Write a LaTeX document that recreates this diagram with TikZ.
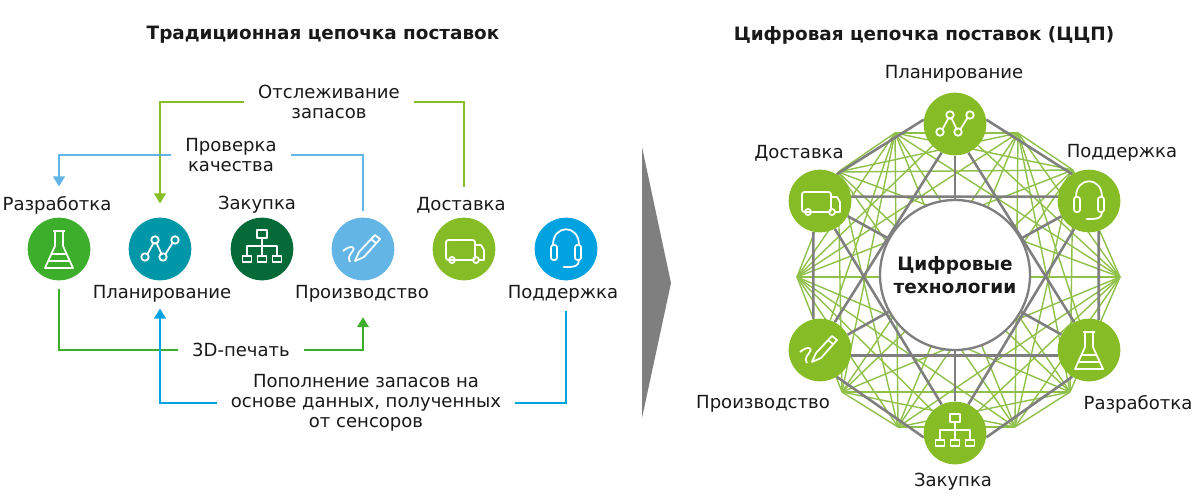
\documentclass[tikz,border=0pt]{standalone}
\usepackage{fontspec}
\setmainfont{DejaVu Sans}
\usetikzlibrary{arrows.meta,backgrounds}
\definecolor{dgreen}{HTML}{86BC25}
\definecolor{lgreen}{HTML}{3DAE2B}
\definecolor{tealb}{HTML}{0097A9}
\definecolor{darkg}{HTML}{046A38}
\definecolor{skyb}{HTML}{62B5E5}
\definecolor{cyanb}{HTML}{00A3E0}
\definecolor{meshgreen}{HTML}{8FC04A}
\definecolor{linegray}{HTML}{7F7F7F}
\tikzset{
    hub/.style={circle,minimum size=1.88cm,inner sep=0pt,fill=#1},
    txt/.style={text=black!90,font=\fontsize{15.4}{17}\selectfont,align=center,inner sep=0pt},
    lab/.style={txt,yshift=-1.7pt},
    flow/.style={txt,inner xsep=.42cm},
    head/.style={text=black!90,font=\bfseries\fontsize{15.7}{17}\selectfont,inner sep=0pt,yshift=-1.7pt},
    link/.style={line width=1.5pt,draw=#1},
    tip/.style={-{Triangle[length=8.5pt,width=10pt]}},
    icn/.style={draw=white,line width=1.5pt,line join=round},
    iconflask/.pic={
        \draw[icn] (-6,-18) -- (6,-18) (-4,-18) -- (-4,-3) -- (-14,19) -- (14,19) -- (4,-3) -- (4,-18);
        \draw[icn] (-8,5) -- (8,5);
        \draw[icn] (-11,12) -- (11,12);
    },
    icongraph/.pic={
        \draw[icn] (-13,6) -- (-6,-7) (-4,-7) -- (2,6) (5,6) -- (13,-7);
        \foreach \px/\py in {-15/8,-5/-9,3/8,15/-9}
            \draw[icn] (\px,\py) circle[radius=3.2pt];
    },
    iconorg/.pic={
        \draw[icn] (-5,-19) rectangle (5,-11);
        \draw[icn] (0,-11) -- (0,7) (-15,7) -- (-15,-3) -- (15,-3) -- (15,7);
        \foreach \px in {-15,0,15}
            \draw[icn] (\px-4.5,7) rectangle (\px+4.5,13);
    },
    iconpen/.pic={
        \draw[icn] (17,-10) -- (12,-14) -- (-4,3) -- (-8,12) -- (1,8) -- cycle;
        \draw[icn] (8,-10) -- (13,-6);
        \draw[icn] (-20,2) .. controls (-13,-4) and (-6,-3) .. (-11,3) .. controls (-14,7) and (-15,9) .. (-13,13);
    },
    icontruck/.pic={
        \draw[icn] (-9,11) -- (-16,11) [rounded corners=2pt] -- (-18,11) -- (-18,-9) -- (11,-9) -- (11,11) [sharp corners] -- (-9,11);
        \draw[icn] (11,-4) -- (17,-4) -- (20,1) -- (20,11) -- (14,11);
        \draw[icn] (-12,11) circle[radius=2.6pt] (12,11) circle[radius=2.6pt];
    },
    iconphones/.pic={
        \draw[icn] (-13,-4) .. controls (-13,-25) and (13,-25) .. (13,-4);
        \draw[icn,rounded corners=2pt] (-15,-4) rectangle (-9,11);
        \draw[icn,rounded corners=2pt] (9,-4) rectangle (15,11);
        \draw[icn] (13,11) .. controls (13,17) and (8,18) .. (3,18);
        \draw[icn,line width=2.4pt,line cap=round] (-2,18) -- (3,18);
    }
}
\begin{document}
\begin{tikzpicture}[x=0.03cm,y=-0.03cm]
    \useasboundingbox (0,0) rectangle (1200,500);
    \def\ring{895/133,1018/133,1073/170,1120/277,1070/392,1015/427,898/427,842/392,797/277,838/172}

    % left part
    \node[head] (lefthead) at (323,33) {Традиционная цепочка поставок};
    \foreach \nm/\px/\col/\ic in {dev/59/lgreen/iconflask,plan/160/tealb/icongraph,buy/262/darkg/iconorg,
        prod/363/skyb/iconpen,deliv/464/dgreen/icontruck,supp/566/cyanb/iconphones}
    {
        \node[hub=\col] (\nm) at (\px,249) {};
        \pic at (\nm) {\ic};
    }
    \node[lab] (devtxt) at (57,203) {Разработка};
    \node[lab] (buytxt) at (257,203) {Закупка};
    \node[lab] (delivtxt) at (461,203) {Доставка};
    \node[lab] (plantxt) at (162,292) {Планирование};
    \node[lab] (prodtxt) at (362,292) {Производство};
    \node[lab] (supptxt) at (563,292) {Поддержка};

    \node[flow] (track) at (329,102) {Отслеживание\\запасов};
    \node[flow] (check) at (231,155) {Проверка\\качества};
    \node[flow] (print) at (241,350) {3D-печать};
    \node[flow] (refill) at (366,403) {Пополнение запасов на\\основе данных, полученных\\от сенсоров};

    \draw[link=dgreen,tip,shorten >=.42cm] (track.west) -| (plan.north);
    \draw[link=dgreen,shorten >=.9cm] (track.east) -| (deliv.north);
    \draw[link=skyb,tip,shorten >=.93cm] (check.west) -| (dev.north);
    \draw[link=skyb,shorten >=.18cm] (check.east) -| (prod.north);
    \draw[link=lgreen,shorten <=.24cm] (dev.south) |- (print.west);
    \draw[link=lgreen,tip,shorten >=1.1cm] (print.east) -| (prod.south);
    \draw[link=cyanb,shorten <=.9cm] (supp.south) |- (refill.east);
    \draw[link=cyanb,tip,shorten >=.84cm] (refill.west) -| (plan.south);

    % big arrow
    \fill[linegray] (642,147) -- (671,283) -- (642,418) -- cycle;

    % right part
    \node[head] (righthead) at (924,33) {Цифровая цепочка поставок (ЦЦП)};
    \node[circle,draw=linegray,line width=2pt,fill=white,minimum size=4.5cm,inner sep=0pt,
        txt,font=\bfseries\fontsize{15.8}{19.5}\selectfont] (core) at (955,275) {Цифровые\\технологии};
    \foreach \nm/\px/\py/\ic in {hplan/955/124/icongraph,hsupp/1089/201/iconphones,hdev/1089/350/iconflask,
        hbuy/955/433/iconorg,hprod/820/350/iconpen,hdeliv/820/201/icontruck}
    {
        \node[hub=dgreen] (\nm) at (\px,\py) {};
        \pic at (\nm) {\ic};
    }
    \node[lab] (hplantxt) at (954,72) {Планирование};
    \node[lab] (hdelivtxt) at (799,151) {Доставка};
    \node[lab] (hsupptxt) at (1122,151) {Поддержка};
    \node[lab] (hprodtxt) at (763,402) {Производство};
    \node[lab] (hdevtxt) at (1138,402) {Разработка};
    \node[lab] (hbuytxt) at (953,480) {Закупка};

    \begin{scope}[on background layer]
        \foreach \px/\py [count=\i] in \ring
            \coordinate (m\i) at (\px,\py);
        \foreach \i in {1,...,10}
            \foreach \j in {1,...,10}
            {
                \ifnum\i<\j
                    \draw[meshgreen,line width=1.2pt] (m\i) -- (m\j);
                \fi
            }
        \foreach \a/\b in {1/hprod,2/hdev,9/hplan,4/hplan,9/hbuy,4/hbuy}
            \draw[meshgreen,line width=1.2pt] (m\a) -- (\b);
        \draw[linegray,line width=2.2pt] (hplan.172) -- (hdeliv.58) (hplan.8) -- (hsupp.122)
            (hdeliv.258) -- (hprod.102) (hsupp.-72) -- (hdev.72)
            (hprod.-58) -- (hbuy.188) (hdev.238) -- (hbuy.-8)
            (hdeliv.8) -- (hsupp.172) (hprod.-10) -- (hdev.190)
            (hplan.-115) -- (hprod.62) (hplan.-65) -- (hdev.118)
            (hdeliv.-62) -- (hbuy.115) (hsupp.-118) -- (hbuy.65);
        \foreach \nm in {hplan,hsupp,hdev,hbuy,hprod,hdeliv}
            \draw[linegray,line width=2.2pt] (\nm) -- (core);
    \end{scope}
\end{tikzpicture}
\end{document}
